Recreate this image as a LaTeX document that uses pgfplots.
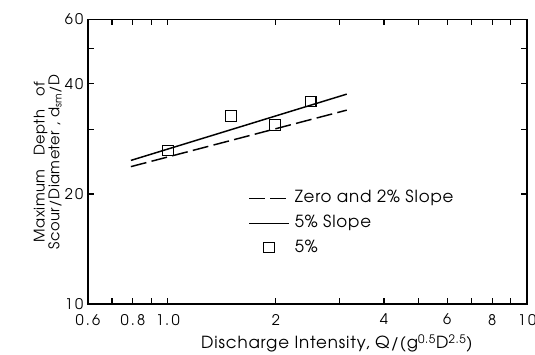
\documentclass[border=0pt]{standalone}
\usepackage{fontspec}
\setmainfont{TeX Gyre Adventor}[LetterSpace=3]
\usepackage{pgfplots}
\pgfplotsset{compat=1.18}
\pgfplotsset{
  linelegend/.style={legend image code/.code={\draw[##1] (0pt,0pt) -- (30pt,0pt);}},
  marklegend/.style={legend image code/.code={\draw[mark repeat=2,mark phase=2,##1] plot coordinates {(0pt,1pt) (15pt,1pt) (30pt,1pt)};}},
}
\begin{document}
\begin{tikzpicture}
\path[use as bounding box] (-66pt,-37.5pt) rectangle (335.25pt,228pt);
\begin{axis}[
  scale only axis,
  width=329.25pt, height=213.4pt,
  xmode=log, ymode=log,
  xmin=0.6, xmax=10, ymin=10, ymax=60,
  axis line style={line width=1.2pt},
  xtick={0.6,0.8,1,2,4,6,8,10},
  xticklabels={0.6,0.8,1.0,2,4,6,8,10},
  minor xtick={0.7,0.9,3,5,7,9},
  ytick={10,20,40,60},
  yticklabels={10,20,40,60},
  minor ytick={30,50},
  tick align=inside,
  major tick length=4.5pt, minor tick length=4.5pt,
  every tick/.style={line width=0.9pt, black},
  tick label style={font=\fontsize{11}{12}\selectfont\addfontfeatures{LetterSpace=15}},
  xticklabel style={yshift=-4pt},
  xlabel={Discharge Intensity, Q/(g\textsuperscript{0.5}D\textsuperscript{2.5})},
  xlabel style={at={(ticklabel cs:0.567)}, font=\fontsize{12.5}{14}\selectfont\addfontfeatures{LetterSpace=5}},
  ylabel={Maximum\hspace{7pt} Depth\hspace{7pt} of\\Scour/Diameter , d\textsubscript{sm}/D},
  ylabel style={align=center, font=\fontsize{11}{11}\selectfont},
  ylabel shift=-4.5pt,
  legend style={at={(0.3645,0.41)}, anchor=north west, draw=none, fill=none,
    inner sep=0pt, row sep=3pt, font=\fontsize{12.5}{14}\selectfont\addfontfeatures{LetterSpace=5},
    nodes={inner ysep=2pt, inner xsep=3.75pt, text height=9pt, text depth=3pt}},
  legend cell align=left,
]
\addplot[black, line width=1.1pt, dash pattern=on 12pt off 4pt, linelegend]
  coordinates {(0.79,23.75) (3.15,33.9)};
\addlegendentry{Zero and 2\% Slope}
\addplot[black, line width=1.1pt, linelegend]
  coordinates {(0.79,24.7) (3.15,37.5)};
\addlegendentry{5\% Slope}
\addplot[only marks, mark=square, mark size=4pt, black, line width=0.8pt, marklegend]
  coordinates {(1.0,26.3) (1.5,32.7) (1.99,30.9) (2.5,35.8)};
\addlegendentry{5\%}
\end{axis}
\end{tikzpicture}
\end{document}
